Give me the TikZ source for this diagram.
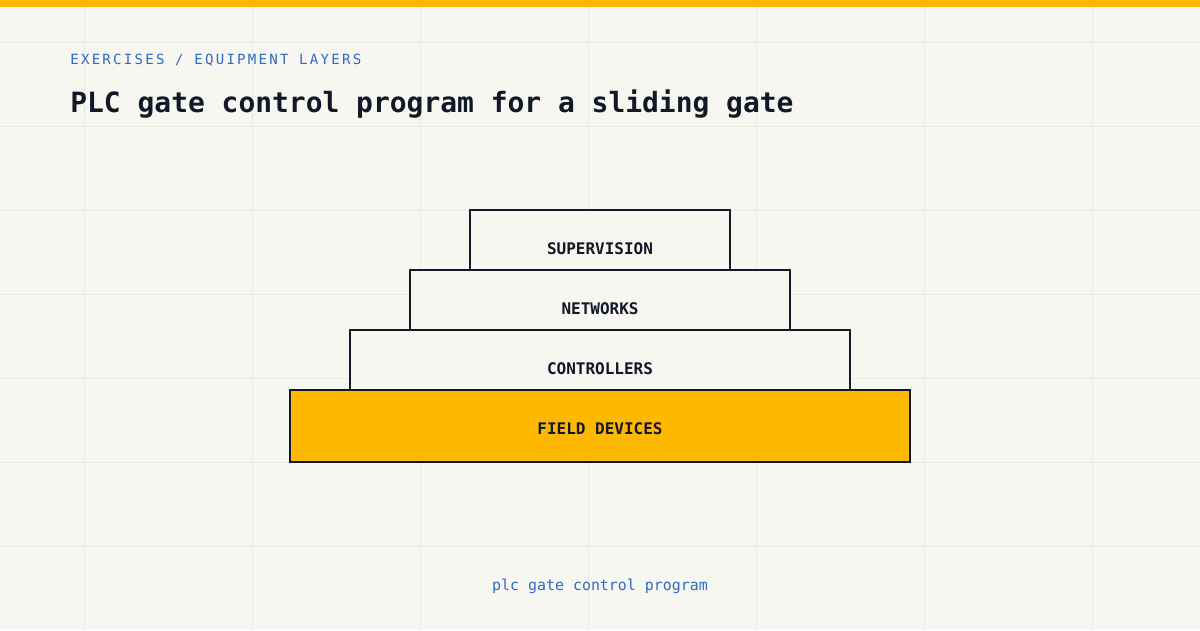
\documentclass[tikz,border=0pt]{standalone}
\usepackage{fontspec}
\setmonofont{DejaVu Sans Mono}
\usepackage{xcolor}
\usetikzlibrary{positioning}

\definecolor{paper}{HTML}{F7F6F1}
\definecolor{gridline}{HTML}{E9E8E2}
\definecolor{amber}{HTML}{FFB800}
\definecolor{ink}{HTML}{111827}
\definecolor{linkblue}{HTML}{2F6BC4}

\tikzset{
  layer/.style={draw=ink, line width=1.1pt, fill=paper, inner sep=0pt},
  layername/.style={font=\ttfamily\bfseries\fontsize{9.1pt}{11pt}\selectfont, text=ink, inner sep=0pt},
}

\begin{document}
\begin{tikzpicture}[x=0.02cm, y=-0.02cm]

% page and background grid
\fill[paper] (0,0) rectangle (1200,630);
\useasboundingbox (0,0) rectangle (1200,630);
\foreach \gx in {84,252,...,1092} {
  \draw[gridline, line width=0.55pt] (\gx,0) -- (\gx,630);
}
\foreach \gy in {42,126,...,546} {
  \draw[gridline, line width=0.55pt] (0,\gy) -- (1200,\gy);
}
\fill[amber] (0,0) rectangle (1200,7);

% header
\node[anchor=base west, inner sep=0pt, text=linkblue,
      font=\ttfamily\fontsize{8pt}{10pt}\selectfont\addfontfeature{LetterSpace=16}]
  (kicker) at (70,64) {EXERCISES / EQUIPMENT LAYERS};
\node[anchor=base west, inner sep=0pt, text=ink,
      font=\ttfamily\bfseries\fontsize{15.9pt}{19pt}\selectfont]
  (title) at (70,112) {PLC gate control program for a sliding gate};

% the layers, top to bottom
\node[layer, minimum width=5.2cm, minimum height=1.2cm]  (sup)   at (600,240) {};
\node[layer, minimum width=7.6cm, minimum height=1.2cm]  (net)   at (600,300) {};
\node[layer, minimum width=10cm,  minimum height=1.2cm]  (ctrl)  at (600,360) {};
\node[layer, fill=amber, minimum width=12.4cm, minimum height=1.44cm] (field) at (600,426) {};

\node[layername] (suplbl)   at (600,249) {SUPERVISION};
\node[layername] (netlbl)   at (600,309) {NETWORKS};
\node[layername] (ctrllbl)  at (600,369) {CONTROLLERS};
\node[layername] (fieldlbl) at (600,429) {FIELD DEVICES};

% footer
\node[anchor=base, inner sep=0pt, text=linkblue,
      font=\ttfamily\fontsize{8.5pt}{10pt}\selectfont]
  (footer) at (600,590) {plc gate control program};

\end{tikzpicture}
\end{document}
